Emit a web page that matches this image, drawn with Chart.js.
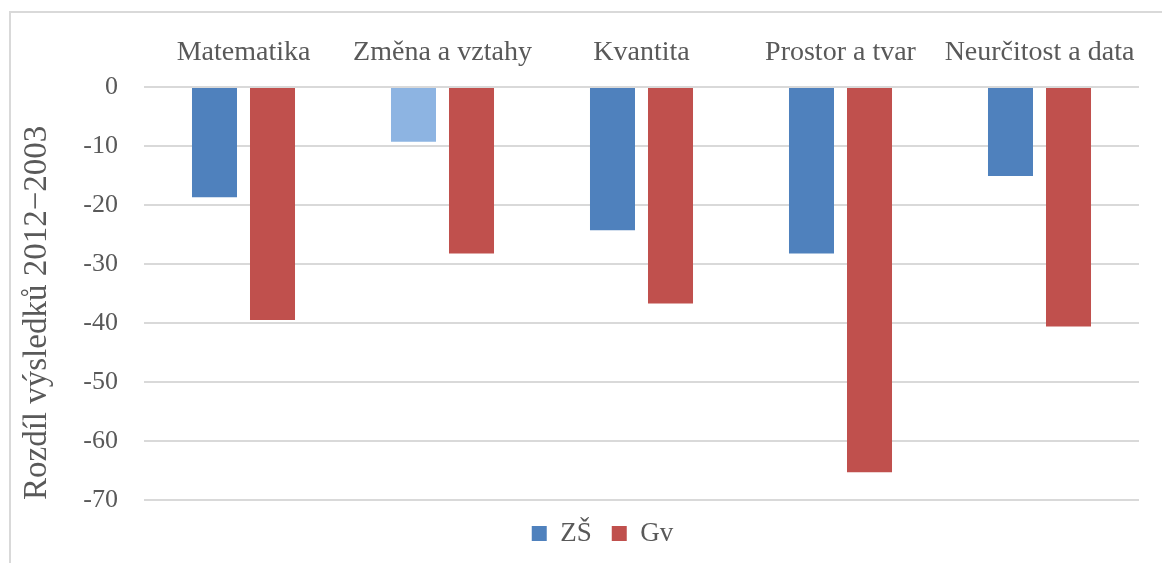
<!DOCTYPE html>
<html lang="cs">
<head>
    <meta charset="UTF-8">
    <title>Rozdíl výsledků 2012–2003</title>
    <script src="https://cdn.jsdelivr.net/npm/chart.js@4.4.0/dist/chart.umd.min.js"></script>
    <style>
        body {
            margin: 0;
            background-color: white;
        }
        .wrap {
            position: absolute;
            left: 0;
            top: 0;
            width: 1162px;
            height: 563px;
        }
        .frame {
            position: absolute;
            left: 9px;
            top: 11px;
            width: 1200px;
            height: 600px;
            border-left: 2px solid #d9d9d9;
            border-top: 2px solid #d9d9d9;
            pointer-events: none;
        }
    </style>
</head>
<body>

<div class="wrap">
    <canvas id="chart" width="1162" height="563"></canvas>
    <div class="frame"></div>
</div>

<script>
    const categories = ["Matematika", "Změna a vztahy", "Kvantita", "Prostor a tvar", "Neurčitost a data"];
    const zsValues = [-18.7, -9.3, -24.3, -28.2, -15.1];
    const gvValues = [-39.5, -28.2, -36.7, -65.3, -40.6];
    const yTicks = [0, -10, -20, -30, -40, -50, -60, -70];

    const BLUE = '#4f81bd';
    const LIGHT_BLUE = '#8db4e2';
    const RED = '#c0504d';
    const TEXT = '#595959';
    const FONT = "'Liberation Serif', 'Times New Roman', serif";

    // legend in the original sits a bit right of the canvas centre
    const legendShift = {
        id: 'legendShift',
        afterUpdate(chart) {
            const lg = chart.legend;
            if (lg) {
                lg.left += 24;
                lg.right += 24;
            }
        }
    };

    const ctx = document.getElementById('chart').getContext('2d');
    new Chart(ctx, {
        type: 'bar',
        data: {
            labels: categories,
            datasets: [{
                label: 'ZŠ',
                data: zsValues,
                // the second ZŠ bar is drawn lighter in the original
                backgroundColor: c => c.dataIndex === 1 ? LIGHT_BLUE : BLUE,
                categoryPercentage: 0.583,
                barPercentage: 0.776
            }, {
                label: 'Gv',
                data: gvValues,
                backgroundColor: RED,
                categoryPercentage: 0.583,
                barPercentage: 0.776
            }]
        },
        options: {
            responsive: false,
            animation: false,
            layout: {
                padding: {left: 18, top: 12, right: 23, bottom: 6}
            },
            plugins: {
                tooltip: {enabled: false},
                legend: {
                    position: 'bottom',
                    labels: {
                        color: TEXT,
                        font: {family: FONT, size: 27},
                        boxWidth: 15,
                        boxHeight: 15,
                        padding: 20
                    }
                }
            },
            scales: {
                x: {
                    position: 'top',
                    grid: {display: false},
                    border: {display: false},
                    ticks: {
                        color: TEXT,
                        font: {family: FONT, size: 28},
                        padding: 10,
                        maxRotation: 0
                    },
                    afterFit: s => { s.height = 75; }
                },
                y: {
                    min: -70,
                    max: 0,
                    afterBuildTicks: s => { s.ticks = yTicks.map(v => ({value: v})); },
                    grid: {color: '#d9d9d9', lineWidth: 2, drawTicks: false},
                    border: {display: false},
                    ticks: {
                        color: TEXT,
                        font: {family: FONT, size: 26},
                        padding: 26
                    },
                    title: {
                        display: true,
                        text: 'Rozdíl výsledků 2012−2003',
                        color: TEXT,
                        align: 'start',
                        font: {family: FONT, size: 33},
                        padding: {top: 0, bottom: 0}
                    },
                    afterFit: s => { s.width = 126; }
                }
            }
        },
        plugins: [legendShift]
    });
</script>

</body>
</html>
